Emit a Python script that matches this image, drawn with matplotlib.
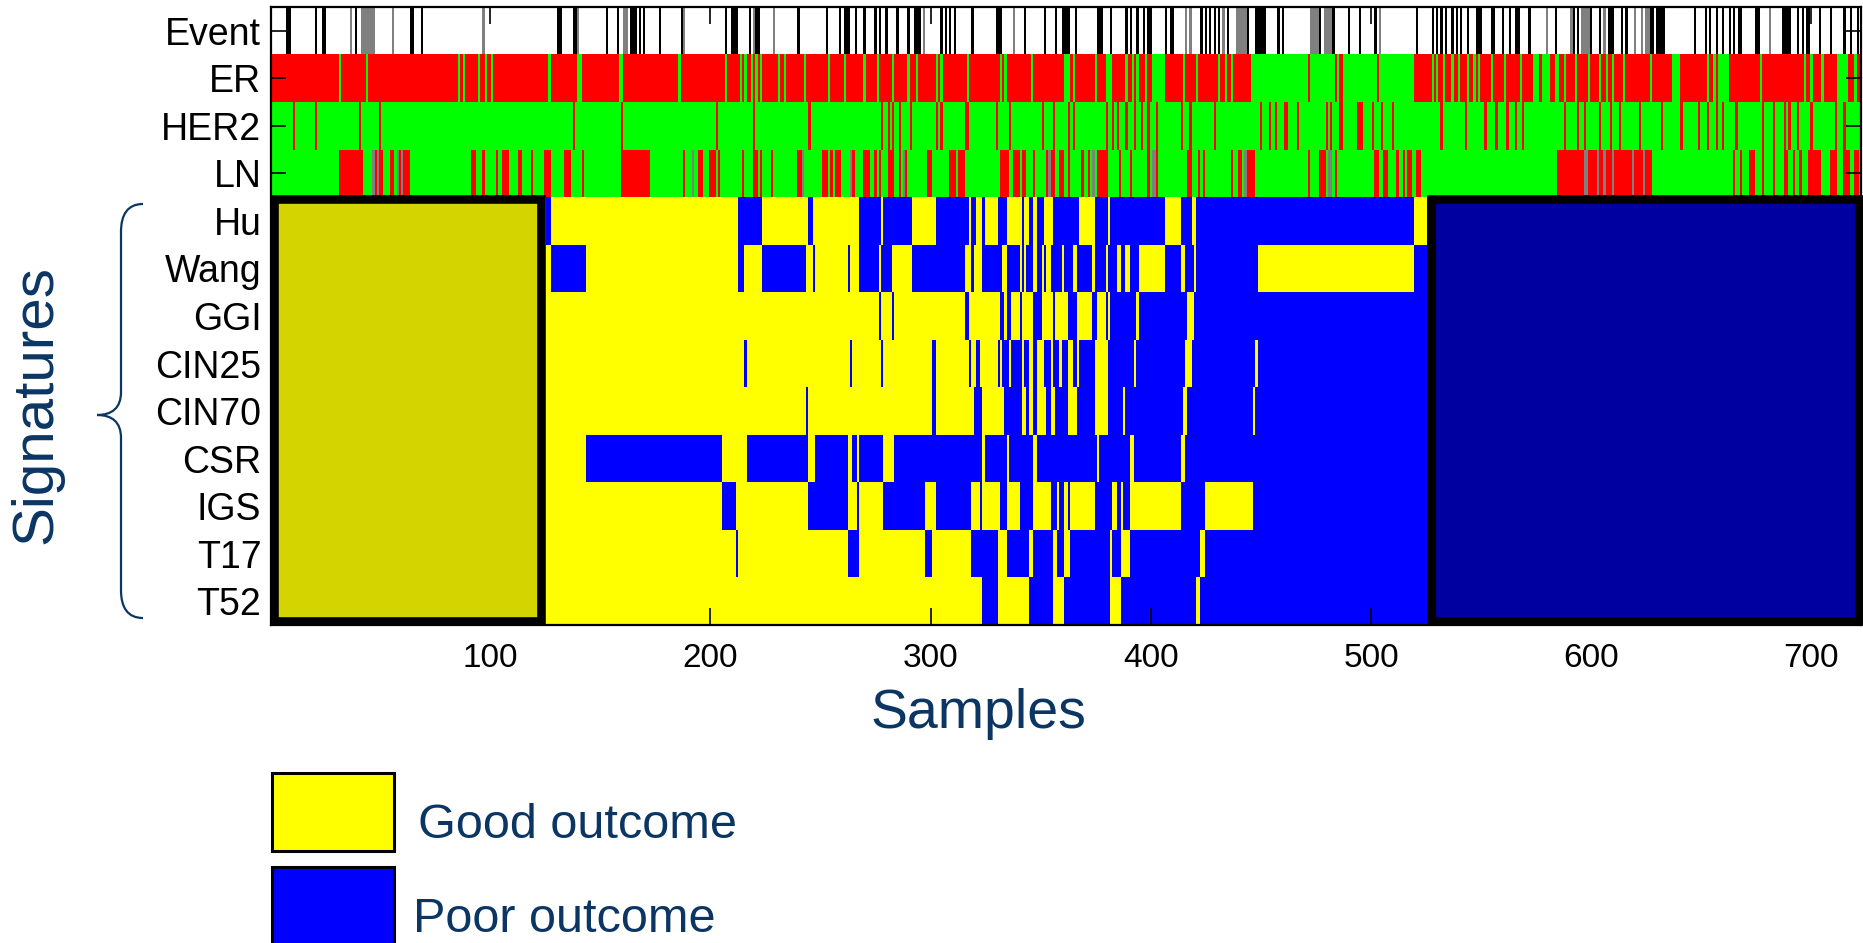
import numpy as np
import matplotlib
matplotlib.use("Agg")
import matplotlib.pyplot as plt
from matplotlib.colors import ListedColormap
from matplotlib.patches import Rectangle, PathPatch
from matplotlib.path import Path

plt.rcParams["font.family"] = ["Liberation Sans", "DejaVu Sans"]

# ---------------------------------------------------------------- data
N_SAMPLES = 722
ROW_LABELS = ["Event", "ER", "HER2", "LN", "Hu", "Wang", "GGI",
              "CIN25", "CIN70", "CSR", "IGS", "T17", "T52"]
X_TICKS = [100, 200, 300, 400, 500, 600, 700]
LEGEND_LABELS = ["Good outcome", "Poor outcome"]

# clinical annotation (sample numbers; tuples are inclusive runs)
EVENT_YES = [(8, 9), 21, (24, 25), 39, (64, 65), 69, (131, 132), (138, 139), 153, 158,
             (164, 166), 168, 170, 177, 187, 207, (210, 212), 218, (221, 222), 240, 253,
             259, (261, 263), 266, 270, 275, 277, 280, 285, 290, (293, 295), 305, 307, 309,
             311, 319, (330, 332), 343, 352, 357, (360, 363), 366, (376, 378), 382, 389,
             391, 394, 397, (399, 400), 407, (409, 410), 423, 425, 427, 429, 431, 435, 444,
             (448, 452), 458, 460, 477, 483, 490, 495, 502, 521, 528, 530, 532, 534, 537,
             539, 541, 544, (548, 550), (555, 556), 560, 563, (566, 567), 572, 584, 592,
             594, 600, 604, (608, 610), 614, 616, (627, 628), (630, 633), 647, 652, 654,
             657, 660, 663, 665, (667, 668), (675, 676), (687, 690), 694, 696, (698, 699),
             704, 709, 715, 718, 721]
EVENT_NA = [37, (42, 47), 56, 97, 140, (161, 162), 188, 220, 229, 297, 338, 416, 418,
            433, (439, 443), (473, 476), (479, 482), 504, 580, 591, (596, 599), 606, 620,
            623, (625, 626), 681]
ER_NEG = [32, 44, 86, 88, 95, 98, 101, 127, (140, 141), (159, 160), 186, 207, 214, 216,
          219, 221, 223, 231, 234, 243, 254, 261, 270, 276, 283, 290, 294, 303, 305, 317,
          332, 334, 346, (361, 363), 365, 375, (380, 382), 389, 392, 394, 398, (401, 406),
          415, 421, 431, 434, 437, (446, 471), (473, 483), 485, (488, 502), (504, 519),
          528, 530, 533, 537, 540, 544, 547, 549, 555, 561, 568, (574, 576), (578, 581),
          (584, 585), 588, 593, 599, 604, 607, 610, 615, 627, (637, 640), 653, 656,
          (658, 662), 677, 697, 700, 705, (712, 716), 720]
HER2_POS = [11, 21, 41, 50, 138, 160, 203, 220, 245, 278, 281, 283, 286, 291, 303, 305,
            (316, 317), 330, 336, 351, 356, 363, 365, 380, 383, 385, 389, 393, 396, 399,
            403, 414, 418, 429, 450, 454, 457, (461, 462), 467, 480, 482, (486, 487),
            (494, 496), 501, 505, 510, 532, 543, 552, 557, 562, 566, 569, 588, 594, 597,
            604, 609, 613, 622, 632, 641, 649, 653, 657, 660, 666, 678, 683, 688, 690, 694,
            700, 711, 715]
LN_POS = [(32, 42), 48, (50, 51), (55, 56), 59, (61, 63), (92, 93), 97, 103, (106, 108),
          (113, 114), 119, (125, 127), (134, 136), 142, (160, 172), 188, (195, 196),
          (200, 202), 204, 215, (220, 221), 223, 228, (240, 241), (251, 253), 255,
          (257, 259), 265, (270, 272), 275, 277, (281, 283), 286, 289, (299, 300),
          (309, 311), (313, 315), (332, 335), (338, 340), (342, 343), 347, 353, (355, 356),
          (359, 360), 363, 369, 372, (376, 380), 386, 391, 399, 403, (417, 418), 422, 424,
          437, (440, 441), (444, 447), 472, (477, 479), 484, (502, 503), (506, 507), 512,
          515, (517, 518), (521, 522), (585, 627), 665, 668, (672, 674), 678, 683,
          (688, 689), 692, 695, (699, 704), (709, 711), (715, 717), (720, 721)]
LN_NA = [47, 49, 58, 60, 192, 242, 264, 288, 354, 374, (401, 402), 443, (481, 482),
         (597, 598), 603, 606, 610, 619, 624]

# signature calls: samples predicted as poor outcome
HU_POOR = [(126, 127), (213, 223), (245, 246), (268, 277), (279, 291), (303, 317),
           (319, 320), 324, (331, 334), 342, (345, 346), (349, 351), (356, 367),
           (375, 380), (382, 406), (414, 418), (421, 519), (526, 722)]
WANG_POOR = [(128, 143), (213, 215), (224, 243), 247, 263, (268, 276), (278, 282),
             (292, 315), 319, (324, 332), (335, 340), 342, (344, 346), (349, 350), 352,
             (355, 359), (361, 364), (367, 373), (375, 379), (381, 384), (387, 388),
             (391, 394), (407, 413), (416, 419), (421, 448), (520, 722)]
GGI_POOR = [277, 283, (316, 317), (332, 333), (335, 336), 341, (347, 350), 356,
            (363, 366), (374, 375), 380, (382, 393), (395, 416), (420, 722)]
CIN25_POOR = [216, 264, 278, (301, 302), 318, (321, 322), 331, (333, 335), (337, 341),
              (343, 344), (347, 348), (352, 354), (356, 358), (360, 362), (365, 366),
              (368, 374), (381, 392), (394, 415), (419, 447), (449, 722)]
CIN70_POOR = [244, (301, 302), (320, 323), (334, 341), 344, (347, 348), (353, 354),
              (357, 362), (367, 374), (381, 387), (389, 414), (417, 446), (448, 722)]
CSR_POOR = [(144, 205), (217, 244), (248, 262), (265, 266), (268, 278), (284, 323),
            (325, 334), (336, 346), (349, 375), (377, 390), (393, 413), (416, 722)]
IGS_POOR = [(206, 211), (245, 262), 267, (279, 297), (303, 318), 323, (332, 334),
            (341, 346), (355, 357), (359, 360), 363, (375, 382), (385, 386), (388, 390),
            (414, 424), (447, 722)]
T17_POOR = [212, (263, 267), (298, 300), (319, 330), (335, 344), (347, 355), (358, 360),
            (364, 381), (383, 386), (391, 422), (425, 722)]
T52_POOR = [(324, 330), (345, 355), (361, 381), (387, 420), (423, 722)]

SIGNATURE_POOR = [HU_POOR, WANG_POOR, GGI_POOR, CIN25_POOR, CIN70_POOR,
                  CSR_POOR, IGS_POOR, T17_POOR, T52_POOR]

# samples on which all nine signatures agree
ALL_GOOD = (1, 123)
ALL_POOR = (527, 722)

# ---------------------------------------------------------------- matrix
WHITE, BLACK, GRAY, RED, GREEN, YELLOW, BLUE = range(7)
cmap = ListedColormap(["#FFFFFF", "#000000", "#808080", "#FF0000",
                       "#00FF00", "#FFFF00", "#0000FF"])


def paint(row, spans, code):
    for sp in spans:
        a, b = (sp, sp) if isinstance(sp, int) else sp
        grid[row, a - 1:b] = code


grid = np.zeros((len(ROW_LABELS), N_SAMPLES), dtype=int)
grid[0] = WHITE
paint(0, EVENT_YES, BLACK)
paint(0, EVENT_NA, GRAY)
grid[1] = RED
paint(1, ER_NEG, GREEN)
grid[2] = GREEN
paint(2, HER2_POS, RED)
grid[3] = GREEN
paint(3, LN_POS, RED)
paint(3, LN_NA, GRAY)
for i, spans in enumerate(SIGNATURE_POOR):
    grid[4 + i] = YELLOW
    paint(4 + i, spans, BLUE)

# ---------------------------------------------------------------- figure
W, H = 1863, 943
fig = plt.figure(figsize=(W / 100, H / 100), dpi=100)
ax = fig.add_axes([271 / W, 1 - 625 / H, 1590 / W, 618 / H])

ax.imshow(grid, cmap=cmap, vmin=-0.5, vmax=6.5, aspect="auto",
          interpolation="nearest",
          extent=(0.5, N_SAMPLES + 0.5, len(ROW_LABELS) - 0.5, -0.5))
ax.set_xlim(0.5, N_SAMPLES + 0.5)
ax.set_ylim(len(ROW_LABELS) - 0.5, -0.5)

# consensus blocks framed in heavy black
sig_top = 3.5 + 0.035
sig_bot = len(ROW_LABELS) - 0.5 - 0.085
box_lw = 6.2
ax.add_patch(Rectangle((ALL_GOOD[0] + 0.7, sig_top), ALL_GOOD[1] - ALL_GOOD[0] - 0.5,
                       sig_bot - sig_top, facecolor="#D4D400", edgecolor="black",
                       linewidth=box_lw, clip_on=False, zorder=2))
ax.add_patch(Rectangle((ALL_POOR[0] + 0.2, sig_top), ALL_POOR[1] - ALL_POOR[0] - 0.6,
                       sig_bot - sig_top, facecolor="#0000A0", edgecolor="black",
                       linewidth=box_lw, clip_on=False, zorder=2))

ax.set_xticks(X_TICKS)
ax.set_xticklabels([str(t) for t in X_TICKS])
ax.set_yticks(range(len(ROW_LABELS)))
ax.set_yticklabels(ROW_LABELS)
ax.tick_params(axis="x", direction="in", length=12, width=1.2, top=True, bottom=True,
               labelsize=24, pad=13)
ax.tick_params(axis="y", direction="in", length=11, width=1.2, left=True, right=True,
               labelsize=27, pad=7)
for sp in ax.spines.values():
    sp.set_linewidth(1.6)

navy = "#0B3563"
fig.text(978 / W, 1 - 728 / H, "Samples", ha="center", va="baseline",
         fontsize=40, color=navy)
fig.text(36 / W, 1 - 404 / H, "Signatures", ha="center", va="center",
         rotation=90, fontsize=42, color=navy)

# curly brace grouping the signature rows
def px(x, y):
    return (x / W, 1 - y / H)

brace_pts = [px(143, 204), px(128, 204), px(121, 214), px(121, 232),
             px(121, 392),
             px(121, 408), px(112, 415), px(97, 415),
             px(112, 415), px(121, 422), px(121, 438),
             px(121, 590),
             px(121, 608), px(128, 618), px(143, 618)]
brace_codes = [Path.MOVETO, Path.CURVE4, Path.CURVE4, Path.CURVE4,
               Path.LINETO,
               Path.CURVE4, Path.CURVE4, Path.CURVE4,
               Path.CURVE4, Path.CURVE4, Path.CURVE4,
               Path.LINETO,
               Path.CURVE4, Path.CURVE4, Path.CURVE4]
fig.add_artist(PathPatch(Path(brace_pts, brace_codes), transform=fig.transFigure,
                         facecolor="none", edgecolor=navy, linewidth=1.6))

# legend swatches
fig.add_artist(Rectangle(px(272, 851), 122 / W, 78 / H, transform=fig.transFigure,
                         facecolor="#FFFF00", edgecolor="black", linewidth=2.2))
fig.add_artist(Rectangle(px(272, 980), 122 / W, 113 / H, transform=fig.transFigure,
                         facecolor="#0000FF", edgecolor="black", linewidth=2.2))
fig.text(418 / W, 1 - 838 / H, LEGEND_LABELS[0], ha="left", va="baseline",
         fontsize=35, color=navy)
fig.text(413 / W, 1 - 932 / H, LEGEND_LABELS[1], ha="left", va="baseline",
         fontsize=35, color=navy)

fig.savefig("out.png", dpi=100)
